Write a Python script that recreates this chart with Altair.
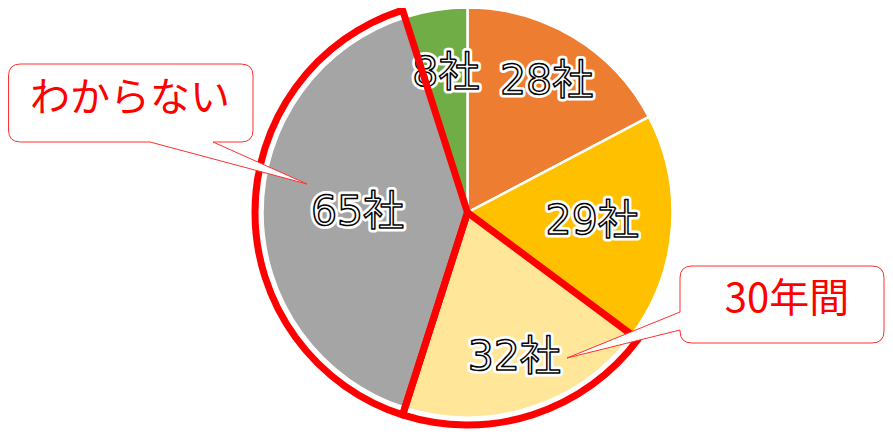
import altair as alt
import pandas as pd

# ---- data ----
categories = ["区分1", "区分2", "30年間", "わからない", "その他"]
counts = [28, 29, 32, 65, 8]
callout_texts = ["わからない", "30年間"]
highlighted = ["30年間", "わからない"]

# ---- styles ----
colors = ["#ED7D31", "#FFC000", "#FFE699", "#A5A5A5", "#70AD47"]
label_radius = [153, 125, 153, 110, 140]
FONT = "Noto Sans CJK JP"
LABEL_FONT = "DejaVu Sans, Noto Sans CJK JP"
CX, CY = 459.5, 204.5  # pie centre in plot coords
R = 205

df = pd.DataFrame({
    "cat": categories,
    "n": counts,
    "idx": list(range(len(categories))),
    "label": [f"{v}社" for v in counts],
    "lr": label_radius,
})

base = alt.Chart(df).transform_window(
    cum="sum(n)", sort=[alt.SortField("idx", order="ascending")],
    frame=[None, 0]
).transform_joinaggregate(
    total="sum(n)"
).transform_calculate(
    a0="(datum.cum - datum.n) / datum.total * 2 * PI",
    a1="datum.cum / datum.total * 2 * PI",
).transform_calculate(
    amid="(datum.a0 + datum.a1) / 2"
)

color = alt.Color("cat:N", scale=alt.Scale(domain=categories, range=colors), legend=None)

pie = base.mark_arc(outerRadius=R, stroke="white", strokeWidth=2.5).encode(
    theta=alt.Theta("a0:Q", scale=None), theta2="a1:Q",
    color=color, x=alt.value(CX), y=alt.value(CY)
)

LABEL_SIZE = 41

halo = base.mark_text(
    font=LABEL_FONT, fontSize=LABEL_SIZE, stroke="white", strokeWidth=7, strokeJoin="round",
    fill="white", baseline="middle", align="center"
).encode(
    text="label:N", theta=alt.Theta("amid:Q", scale=None),
    radius=alt.Radius("lr:Q", scale=None),
    x=alt.value(CX), y=alt.value(CY)
)

labels = base.mark_text(
    font=LABEL_FONT, fontSize=LABEL_SIZE, stroke="black", strokeWidth=1.5, strokeJoin="round",
    fill="white", baseline="middle", align="center"
).encode(
    text="label:N", theta=alt.Theta("amid:Q", scale=None),
    radius=alt.Radius("lr:Q", scale=None),
    x=alt.value(CX), y=alt.value(CY)
)

sel_expr = " || ".join([f"datum.cat == '{c}'" for c in highlighted])
outline = base.mark_arc(
    filled=False, outerRadius=212.5, strokeWidth=7, strokeJoin="round"
).encode(
    theta=alt.Theta("a0:Q", scale=None), theta2="a1:Q",
    color=alt.condition(sel_expr, alt.value("#FF0000"), alt.value("transparent")),
    x=alt.value(CX), y=alt.value(CY)
)


def callout_bottom(x0, y0, x1, y1, r, xr, xl, tx, ty):
    return (f"M{x0 + r},{y0} H{x1 - r} Q{x1},{y0} {x1},{y0 + r} V{y1 - r} "
            f"Q{x1},{y1} {x1 - r},{y1} H{xr} L{tx},{ty} L{xl},{y1} H{x0 + r} "
            f"Q{x0},{y1} {x0},{y1 - r} V{y0 + r} Q{x0},{y0} {x0 + r},{y0} Z")


def callout_left(x0, y0, x1, y1, r, yl, yu, tx, ty):
    return (f"M{x0 + r},{y0} H{x1 - r} Q{x1},{y0} {x1},{y0 + r} V{y1 - r} "
            f"Q{x1},{y1} {x1 - r},{y1} H{x0 + r} Q{x0},{y1} {x0},{y1 - r} "
            f"V{yl} L{tx},{ty} L{x0},{yu} V{y0 + r} Q{x0},{y0} {x0 + r},{y0} Z")


path1 = callout_bottom(0.5, 56, 245, 134, 12, 205, 142, 299, 176)
path2 = callout_left(672, 258, 876, 335, 12, 322, 304, 559, 350)

one = pd.DataFrame({"k": [0]})


def callout_shape(path):
    return alt.Chart(one).mark_point(
        shape=path, size=4, filled=True, fill="white", stroke="#FF3030",
        strokeWidth=1, opacity=1, fillOpacity=1
    ).encode(x=alt.value(0), y=alt.value(0))


def callout_text(t, x, y):
    return alt.Chart(one).mark_text(
        font=FONT, fontSize=40, color="#FF0000", baseline="middle", align="center"
    ).encode(x=alt.value(x), y=alt.value(y), text=alt.value(t))


chart = alt.layer(
    pie, halo, labels, outline,
    callout_shape(path1), callout_text(callout_texts[0], 122, 91),
    callout_shape(path2), callout_text(callout_texts[1], 779, 292),
).properties(
    width=877, height=422, autosize="none", padding=0
).configure_view(stroke=None)

chart.save("out.html", embed_options={"renderer": "svg", "actions": False})
